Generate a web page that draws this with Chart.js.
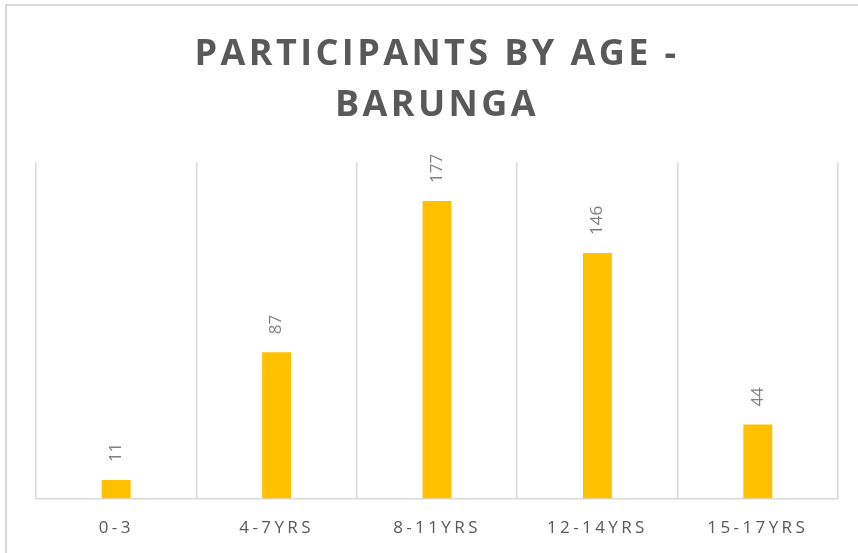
<!DOCTYPE html>
<html>
<head>
<meta charset="utf-8">
<script src="https://cdn.jsdelivr.net/npm/chart.js@4"></script>
<style>
  html, body { margin: 0; padding: 0; background: #fff; }
  #wrap { position: relative; width: 858px; height: 553px; overflow: hidden; }
  #frame {
    position: absolute; left: 5px; top: 4px; width: 1000px; height: 1000px;
    border-left: 2px solid #d9d9d9; border-top: 2px solid #d9d9d9;
  }
  #chart { position: absolute; left: 0; top: 0; }
</style>
</head>
<body>
<div id="wrap">
  <div id="frame"></div>
  <canvas id="chart" width="858" height="553"></canvas>
</div>
<script>
// chart data
const ageGroups = ["0-3", "4-7YRS", "8-11YRS", "12-14YRS", "15-17YRS"];
const participants = [11, 87, 177, 146, 44];
const titleLines = ["PARTICIPANTS BY AGE -", "BARUNGA"];

// letter spacing for title and axis labels, none for the value labels
const spacingPlugin = {
    id: "spacing",
    beforeDraw(chart) {
        chart.ctx.letterSpacing = "3.4px";
    },
};

// rotated value labels above each bar
const valueLabels = {
    id: "valueLabels",
    afterDatasetsDraw(chart) {
        const ctx = chart.ctx;
        const meta = chart.getDatasetMeta(0);
        ctx.save();
        ctx.letterSpacing = "0px";
        ctx.font = "17px 'Open Sans'";
        ctx.fillStyle = "#7f7f7f";
        ctx.textAlign = "left";
        ctx.textBaseline = "middle";
        meta.data.forEach((bar, i) => {
            ctx.save();
            ctx.translate(bar.x, bar.y - 18);
            ctx.rotate(-Math.PI / 2);
            ctx.fillText(String(participants[i]), 0, 0);
            ctx.restore();
        });
        ctx.restore();
    },
};

const ctx = document.getElementById("chart").getContext("2d");
new Chart(ctx, {
    type: "bar",
    data: {
        labels: ageGroups,
        datasets: [{
            data: participants,
            backgroundColor: "#FFC000",
            borderWidth: 0,
            categoryPercentage: 1,
            barPercentage: 0.18,
        }],
    },
    options: {
        responsive: false,
        animation: false,
        layout: {
            padding: { left: 36, right: 20, top: 29, bottom: -4 },
        },
        scales: {
            x: {
                offset: true,
                grid: {
                    offset: true,
                    color: "#d9d9d9",
                    lineWidth: 1.5,
                    drawTicks: false,
                },
                border: { color: "#d9d9d9", width: 1.5 },
                ticks: {
                    color: "#595959",
                    font: { family: "'Open Sans'", size: 17 },
                    padding: 19,
                    maxRotation: 0,
                    autoSkip: false,
                },
            },
            y: {
                display: false,
                min: 0,
                max: 200,
            },
        },
        plugins: {
            legend: { display: false },
            tooltip: { enabled: false },
            title: {
                display: true,
                text: titleLines,
                color: "#595959",
                font: { family: "'Open Sans'", size: 36, weight: "bold", lineHeight: 1.42 },
                padding: { top: 0, bottom: 31 },
            },
        },
    },
    plugins: [spacingPlugin, valueLabels],
});
</script>
</body>
</html>
